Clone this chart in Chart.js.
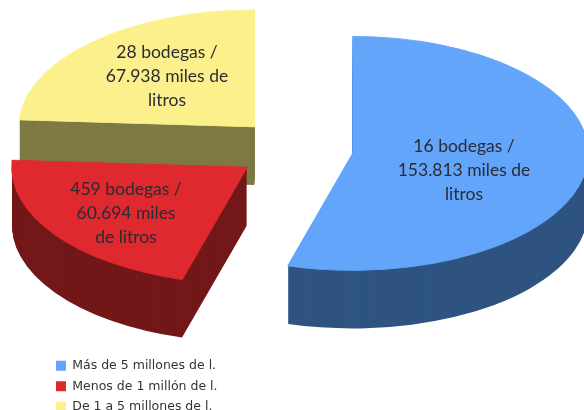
<!DOCTYPE html>
<html>
<head>
<meta charset="utf-8">
<script src="https://cdn.jsdelivr.net/npm/chart.js@4"></script>
<style>html,body{margin:0;padding:0;background:#fff}canvas{display:block}</style>
</head>
<body>
<canvas id="c" width="584" height="410"></canvas>
<script>
const categories = ['Más de 5 millones de l.', 'Menos de 1 millón de l.', 'De 1 a 5 millones de l.'];
const litres = [153.813, 60.694, 67.938];
const sliceLabels = [
  ['16 bodegas /', '153.813 miles de', 'litros'],
  ['459 bodegas /', '60.694 miles', 'de litros'],
  ['28 bodegas /', '67.938 miles de', 'litros']
];
const topColors = ['#62A5FB', '#E0282F', '#FBF08B'];
const sideColors = ['#2F5480', '#731819', '#7E7A44'];
const explode = [56.5, 61.3, 62.3];
const labelAnchors = [[464, 152], [126, 195], [167, 58]];

const CENTER = [297, 149.5], TILT = 0.498, DEPTH = 58;
const ink = '#2B2B33';

const pie3d = {
  id: 'pie3d',
  beforeDatasetDraw(chart, args) {
    const ctx = chart.ctx, arcs = args.meta.data;
    ctx.save();
    for (let i = arcs.length - 1; i >= 0; i--) {
      const arc = arcs[i], opts = arc.options;
      const mid = (arc.startAngle + arc.endAngle) / 2;
      for (let d = DEPTH; d >= 0; d--) {
        ctx.save();
        ctx.translate(CENTER[0], CENTER[1] + d);
        ctx.scale(1, TILT);
        ctx.translate(Math.cos(mid) * explode[i] - arc.x, Math.sin(mid) * explode[i] - arc.y);
        arc.options = Object.assign({}, opts, d === 0
          ? {backgroundColor: topColors[i], borderColor: topColors[i], borderWidth: 1.5}
          : {backgroundColor: sideColors[i], borderWidth: 0});
        arc.draw(ctx);
        ctx.restore();
      }
      arc.options = opts;
    }
    ctx.restore();
    return false;
  },
  afterDatasetsDraw(chart) {
    const ctx = chart.ctx;
    ctx.save();
    ctx.fillStyle = ink;
    ctx.font = '17.5px Lato';
    ctx.textAlign = 'center';
    ctx.textBaseline = 'alphabetic';
    sliceLabels.forEach((lines, i) => {
      lines.forEach((t, k) => ctx.fillText(t, labelAnchors[i][0], labelAnchors[i][1] + k * 24));
    });
    ctx.restore();
  }
};

new Chart(document.getElementById('c'), {
  type: 'pie',
  data: {
    labels: categories,
    datasets: [{
      data: litres,
      backgroundColor: topColors,
      borderWidth: 0,
      radius: 235
    }]
  },
  options: {
    responsive: false,
    animation: false,
    layout: {padding: {left: 48, bottom: -11}},
    plugins: {
      tooltip: {enabled: false},
      legend: {
        position: 'left',
        align: 'end',
        labels: {
          boxWidth: 10,
          boxHeight: 10,
          padding: 8,
          color: '#333',
          font: {family: '"DejaVu Sans"', size: 12.5}
        }
      }
    }
  },
  plugins: [pie3d]
});
</script>
</body>
</html>
